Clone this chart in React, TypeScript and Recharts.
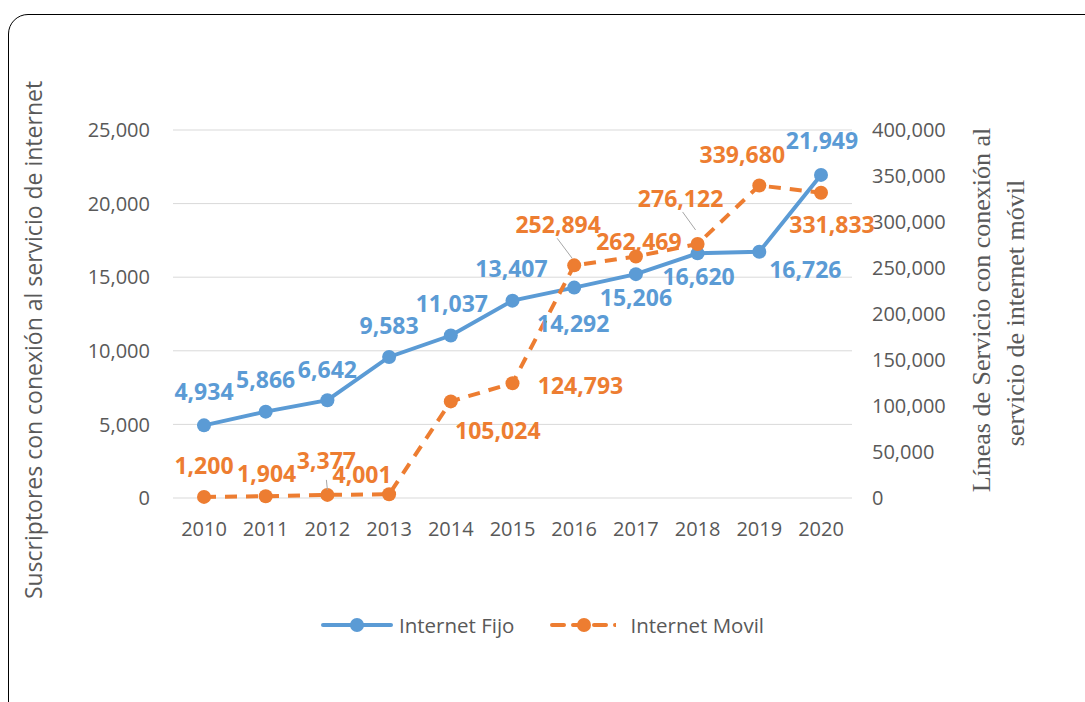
import {
  LineChart,
  Line,
  CartesianGrid,
  XAxis,
  YAxis,
  Legend,
  LabelList,
} from "recharts";

const years = ["2010", "2011", "2012", "2013", "2014", "2015", "2016", "2017", "2018", "2019", "2020"];
const fijo = [4934, 5866, 6642, 9583, 11037, 13407, 14292, 15206, 16620, 16726, 21949];
const movil = [1200, 1904, 3377, 4001, 105024, 124793, 252894, 262469, 276122, 339680, 331833];
const leftTicks = [0, 5000, 10000, 15000, 20000, 25000];
const rightTicks = [0, 50000, 100000, 150000, 200000, 250000, 300000, 350000, 400000];

// label offsets from the point (dx, dy of label centre)
const fijoLabelOffset = [
  [0, -34], [0, -33], [0, -31], [0, -32], [1, -33], [-1, -33],
  [-1, 35], [0, 23], [1, 23], [46, 17], [1, -35],
];
const movilLabelOffset = [
  [0, -32], [1, -23], [-1, -35], [-27, -20], [47, 29], [68, 2],
  [-16, -41], [3, -16], [-17, -46], [-17, -31], [11, 31],
];
const leaders: Record<number, [number, number, number, number]> = {
  2: [-1, -15, 0, -5],
  6: [-17, -27, -2, -7],
  8: [-15, -32, -2, -14],
};

const BLUE = "#5B9BD5";
const ORANGE = "#ED7D31";
const FONT = "'Open Sans', sans-serif";
const SERIF = "'Liberation Serif', serif";

const data = years.map((y, i) => ({ year: y, fijo: fijo[i], movil: movil[i] }));

const fmt = (v: number) => v.toLocaleString("en-US");

function makeLabel(color: string, offsets: number[][], withLeaders: boolean) {
  return (props: any) => {
    const { x, y, value, index } = props;
    const [dx, dy] = offsets[index];
    const lead = withLeaders ? leaders[index] : undefined;
    return (
      <g>
        {lead && (
          <line
            x1={x + lead[0]}
            y1={y + lead[1]}
            x2={x + lead[2]}
            y2={y + lead[3]}
            stroke="#a6a6a6"
            strokeWidth={1}
          />
        )}
        <text
          x={x + dx}
          y={y + dy}
          textAnchor="middle"
          dominantBaseline="central"
          fill={color}
          fontFamily={FONT}
          fontWeight="bold"
          fontSize={23}
        >
          {fmt(value)}
        </text>
      </g>
    );
  };
}

function LegendContent() {
  return (
    <div
      style={{
        height: 30,
        display: "flex",
        justifyContent: "center",
        alignItems: "center",
        fontFamily: FONT,
        fontSize: 20.5,
        color: "#595959",
      }}
    >
      <svg width={72} height={20}>
        <line x1={2} y1={10} x2={70} y2={10} stroke={BLUE} strokeWidth={4} strokeLinecap="round" />
        <circle cx={36} cy={10} r={7} fill={BLUE} />
      </svg>
      <span style={{ marginLeft: 6, marginRight: 36 }}>Internet Fijo</span>
      <svg width={66} height={20}>
        <line x1={2} y1={10} x2={66} y2={10} stroke={ORANGE} strokeWidth={4} strokeDasharray="12 9" strokeLinecap="round" />
        <circle cx={34} cy={10} r={7} fill={ORANGE} />
      </svg>
      <span style={{ marginLeft: 14 }}>Internet Movil</span>
    </div>
  );
}

const tickStyle = { fill: "#595959", fontSize: 20, fontFamily: FONT };

export default function App() {
  return (
    <div
      style={{
        position: "absolute",
        left: 0,
        top: 0,
        width: 1085,
        height: 702,
        overflow: "hidden",
        background: "#fff",
      }}
    >
      <div
        style={{
          position: "absolute",
          left: 8,
          top: 14,
          width: 1100,
          height: 720,
          border: "1.5px solid #000",
          borderRadius: 20,
        }}
      />
      <div style={{ position: "absolute", left: 0, top: 0 }}>
        <LineChart
          width={1085}
          height={702}
          data={data}
          margin={{ top: 130, right: 0, left: 0, bottom: 62 }}
        >
          <CartesianGrid vertical={false} stroke="#d9d9d9" yAxisId="left" />
          <XAxis
            dataKey="year"
            axisLine={false}
            tickLine={false}
            tickSize={0}
            tickMargin={24}
            height={112}
            padding={{ left: 31, right: 31 }}
            tick={tickStyle}
          />
          <YAxis
            yAxisId="left"
            orientation="left"
            width={173}
            domain={[0, 25000]}
            ticks={leftTicks}
            tickFormatter={fmt}
            axisLine={false}
            tickLine={false}
            tickSize={0}
            tickMargin={23}
            tick={tickStyle}
            label={() => (
              <text
                x={33}
                y={340}
                transform="rotate(-90 33 340)"
                textAnchor="middle"
                dominantBaseline="central"
                fill="#595959"
                fontFamily={FONT}
                fontSize={23}
              >
                Suscriptores con conexión al servicio de internet
              </text>
            )}
          />
          <YAxis
            yAxisId="right"
            orientation="right"
            width={233}
            domain={[0, 400000]}
            ticks={rightTicks}
            tickFormatter={fmt}
            axisLine={false}
            tickLine={false}
            tickSize={0}
            tickMargin={20}
            tick={tickStyle}
            label={() => (
              <g>
                <text
                  x={981}
                  y={310}
                  transform="rotate(-90 981 310)"
                  textAnchor="middle"
                  dominantBaseline="central"
                  fill="#595959"
                  fontFamily={SERIF}
                  fontSize={26}
                >
                  Líneas de Servicio con conexión al
                </text>
                <text
                  x={1015}
                  y={313}
                  transform="rotate(-90 1015 313)"
                  textAnchor="middle"
                  dominantBaseline="central"
                  fill="#595959"
                  fontFamily={SERIF}
                  fontSize={26}
                >
                  servicio de internet móvil
                </text>
              </g>
            )}
          />
          <Legend verticalAlign="bottom" content={() => <LegendContent />} />
          <Line
            yAxisId="left"
            dataKey="fijo"
            name="Internet Fijo"
            stroke={BLUE}
            strokeWidth={4}
            dot={{ r: 7, fill: BLUE, stroke: BLUE, strokeWidth: 0 }}
            isAnimationActive={false}
          >
            <LabelList dataKey="fijo" content={makeLabel(BLUE, fijoLabelOffset, false)} />
          </Line>
          <Line
            yAxisId="right"
            dataKey="movil"
            name="Internet Movil"
            stroke={ORANGE}
            strokeWidth={4}
            strokeDasharray="12 9"
            dot={{ r: 7, fill: ORANGE, stroke: ORANGE, strokeWidth: 0, strokeDasharray: "" }}
            isAnimationActive={false}
          >
            <LabelList dataKey="movil" content={makeLabel(ORANGE, movilLabelOffset, true)} />
          </Line>
        </LineChart>
      </div>
    </div>
  );
}
